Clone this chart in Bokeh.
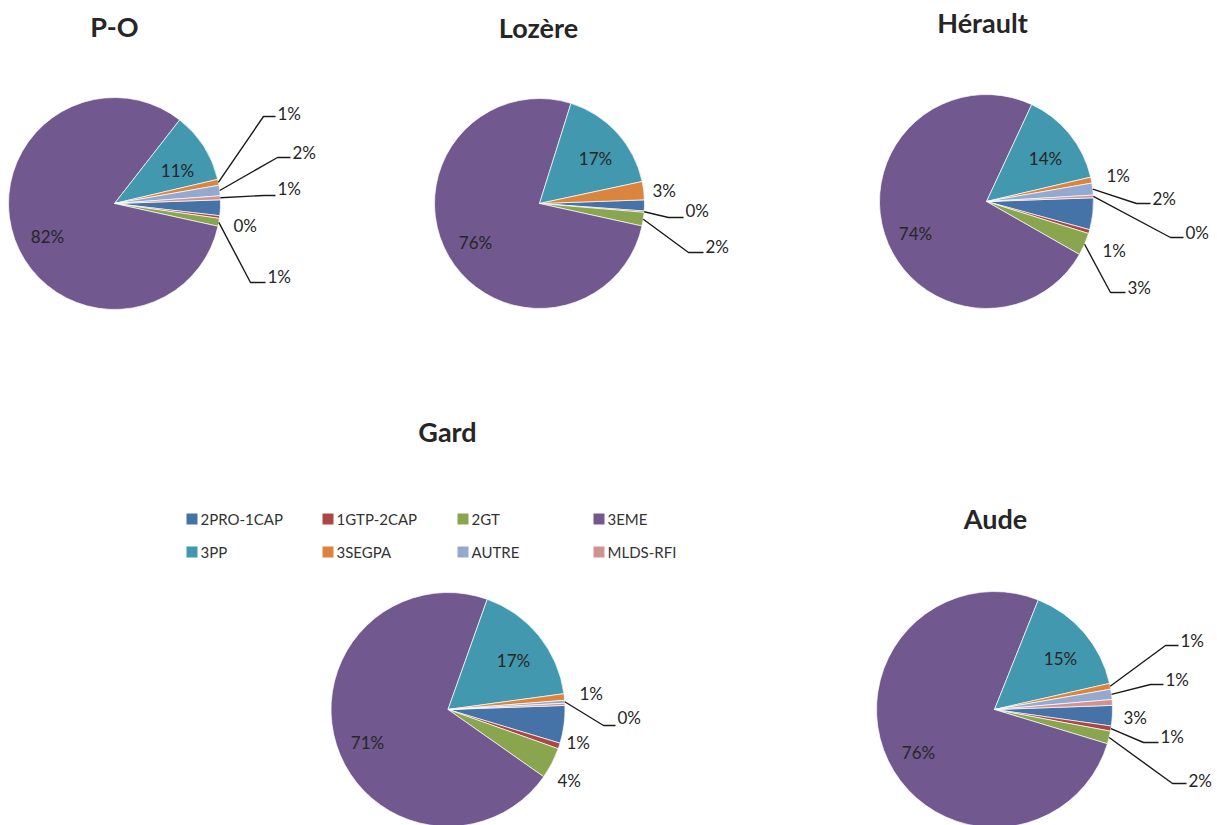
from math import pi, cos, sin, radians
from bokeh.plotting import figure
from bokeh.models import Range1d, ColumnDataSource
from bokeh.core.properties import value
from bokeh.embed import file_html
from bokeh.resources import INLINE

# ---------------- data ----------------
categories = ["2PRO-1CAP", "1GTP-2CAP", "2GT", "3EME", "3PP", "3SEGPA", "AUTRE", "MLDS-RFI"]
titles = ["P-O", "Lozère", "Hérault", "Gard", "Aude"]
po = [2.4, 0.4, 1.2, 82.1, 10.8, 0.9, 1.6, 0.6]
lozere = [1.7, 0.2, 2.1, 76.4, 16.8, 2.8, 0.0, 0.0]
herault = [4.8, 0.6, 3.4, 73.7, 14.4, 0.9, 1.8, 0.4]
gard = [5.2, 0.8, 4.3, 70.7, 17.4, 0.9, 0.4, 0.3]
aude = [2.8, 0.7, 1.75, 76.4, 15.4, 0.8, 1.4, 0.8]
series = [po, lozere, herault, gard, aude]

# ---------------- style / layout ----------------
colors = ["#4572A7", "#AA4643", "#89A54E", "#71588F", "#4198AF", "#DB843D", "#93A9CF", "#D19392"]
FONT = "Lato"
TXT = "#262626"
SCREEN_W = 1217
SCREEN_H = 825
START_DEG = 2.0

def Y(s):
    return SCREEN_H - s

# pie centre (screen px), radius, title position
pies = [
    dict(c=(114, 203), r=106, t=(114, 26)),
    dict(c=(539, 203), r=105, t=(538, 27)),
    dict(c=(986, 201), r=107, t=(982, 22)),
    dict(c=(447.5, 709), r=117, t=(447, 431)),
    dict(c=(994, 709), r=118, t=(995, 518)),
]
# inner labels: category index -> centre position
inner = [
    {3: (47, 236), 4: (177, 170)},
    {3: (475, 242), 4: (595, 158)},
    {3: (915, 233), 4: (1045, 158)},
    {3: (367, 742), 4: (513, 660)},
    {3: (918, 752), 4: (1060, 658)},
]
# outer labels: (category index, text left, text mid y, elbow x, elbow y)
outer = [
    [(5, 277, 113, 263, 116), (6, 292, 152, 277, 157), (7, 277, 188, 263, 195),
     (1, 233, 225, None, None), (2, 267, 276, 250, 282)],
    [(5, 652, 190, None, None), (1, 685, 210, 668, 217), (2, 705, 246, 688, 252)],
    [(5, 1106, 175, None, None), (6, 1152, 198, 1136, 203), (7, 1185, 232, 1170, 237),
     (1, 1102, 250, None, None), (2, 1127, 287, 1110, 292)],
    [(5, 579, 693, None, None), (6, 617, 717, 603, 725), (1, 566, 742, None, None),
     (2, 557, 780, None, None)],
    [(5, 1180, 640, 1165, 645), (6, 1165, 679, 1150, 684), (0, 1123, 717, None, None),
     (1, 1160, 736, 1143, 742), (2, 1188, 780, 1172, 783)],
]

p = figure(width=SCREEN_W, height=SCREEN_H, x_range=Range1d(0, SCREEN_W), y_range=Range1d(0, SCREEN_H),
           output_backend="svg", toolbar_location=None, min_border=0)
p.axis.visible = False
p.grid.visible = False
p.outline_line_color = None
p.background_fill_color = "white"

lead_xs, lead_ys = [], []
for k, vals in enumerate(series):
    lay = pies[k]
    cx, cy = lay["c"]
    r = lay["r"]
    total = float(sum(vals))
    start = radians(START_DEG)
    sa, ea, col, mids, pct = [], [], [], [], []
    cum = 0.0
    for i, v in enumerate(vals):
        a0 = start - 2 * pi * cum / total
        cum += v
        a1 = start - 2 * pi * cum / total
        mids.append((a0 + a1) / 2)
        pct.append("%d%%" % int(v / total * 100 + 0.5))
        if v > 0:
            sa.append(a1)
            ea.append(a0)
            col.append(colors[i])
    src = ColumnDataSource(dict(start=sa, end=ea, color=col))
    p.wedge(x=cx, y=Y(cy), radius=r, start_angle="start", end_angle="end",
            fill_color="color", line_color="white", line_width=0.7, source=src)

    # title
    tx, ty = lay["t"]
    p.text(x=[tx], y=[Y(ty)], text=[titles[k]], text_font=value(FONT),
           text_font_size="27px", text_font_style="bold", text_color=TXT,
           text_align="center", text_baseline="middle")

    # inner labels
    ix, iy, it = [], [], []
    for ci, (lx, ly) in inner[k].items():
        ix.append(lx); iy.append(Y(ly)); it.append(pct[ci])
    p.text(x=ix, y=iy, text=it, text_font=value(FONT), text_font_size="17px",
           text_color=TXT, text_align="center", text_baseline="middle")

    # outer labels
    ox, oy, ot = [], [], []
    for (ci, lx, ly, ex, ey) in outer[k]:
        ox.append(lx); oy.append(Y(ly)); ot.append(pct[ci])
        if ex is not None:
            m = mids[ci]
            sx0 = cx + r * cos(m)
            sy0 = cy - r * sin(m)
            lead_xs.append([sx0, ex, lx - 2])
            lead_ys.append([Y(sy0), Y(ey), Y(ey)])
    p.text(x=ox, y=oy, text=ot, text_font=value(FONT), text_font_size="17px",
           text_color=TXT, text_align="left", text_baseline="middle")

p.multi_line(xs=lead_xs, ys=lead_ys, line_color="#1a1a1a", line_width=1.4)

# legend
leg_sq_x = [191.5, 327.5, 462.5, 598.5]
leg_tx_x = [200, 336, 471, 607]
leg_y = [518.5, 551.5]
lx, ly, ltx, lcol = [], [], [], []
for i, c in enumerate(categories):
    row, colm = divmod(i, 4)
    lx.append(leg_sq_x[colm]); ly.append(Y(leg_y[row])); lcol.append(colors[i])
    ltx.append(leg_tx_x[colm])
p.scatter(x=lx, y=ly, marker="square", size=11, fill_color=lcol, line_color=None)
p.text(x=ltx, y=ly, text=categories, text_font=value(FONT), text_font_size="15px",
       text_color="#333333", text_align="left", text_baseline="middle")

open("out.html", "w").write(file_html(p, INLINE))
